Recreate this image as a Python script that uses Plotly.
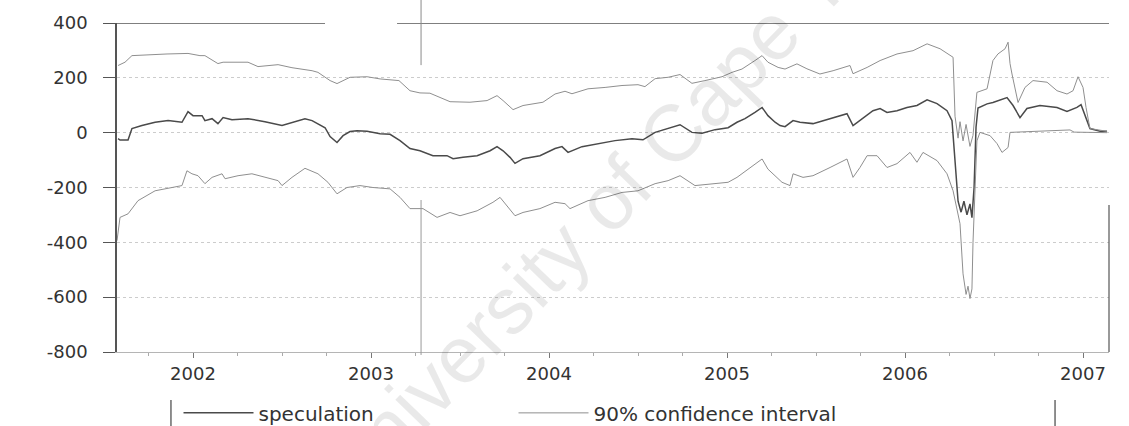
import plotly.graph_objects as go

# ---------------- data (decimal years) ----------------
spec_x = [2001.579, 2001.590, 2001.635, 2001.657, 2001.713, 2001.787, 2001.860, 2001.938, 2001.972,
          2002.000, 2002.051, 2002.067, 2002.107, 2002.140, 2002.169, 2002.219, 2002.309, 2002.404,
          2002.500, 2002.556, 2002.629, 2002.669, 2002.742, 2002.770, 2002.809, 2002.843, 2002.882,
          2002.921, 2002.978, 2003.051, 2003.107, 2003.163, 2003.219, 2003.275, 2003.348, 2003.427,
          2003.461, 2003.517, 2003.596, 2003.669, 2003.708, 2003.742, 2003.781, 2003.809, 2003.854,
          2003.949, 2004.034, 2004.073, 2004.107, 2004.185, 2004.275, 2004.371, 2004.466, 2004.528,
          2004.596, 2004.669, 2004.736, 2004.803, 2004.860, 2004.933, 2005.006, 2005.056, 2005.101,
          2005.157, 2005.197, 2005.230, 2005.270, 2005.298, 2005.326, 2005.371, 2005.410, 2005.483,
          2005.579, 2005.674, 2005.708, 2005.747, 2005.820, 2005.860, 2005.899, 2005.955, 2006.011,
          2006.067, 2006.124, 2006.180, 2006.236, 2006.264, 2006.281, 2006.298, 2006.315, 2006.331,
          2006.348, 2006.365, 2006.376, 2006.388, 2006.399, 2006.410, 2006.461, 2006.494, 2006.573,
          2006.607, 2006.646, 2006.685, 2006.758, 2006.854, 2006.910, 2006.966, 2006.989, 2007.011,
          2007.039, 2007.096, 2007.135]
speculation = [-22, -27, -27, 15, 26, 38, 44, 38, 77,
               62, 62, 44, 51, 33, 55, 47, 51, 40,
               26, 38, 51, 44, 18, -14, -36, -11, 4,
               7, 5, -4, -6, -29, -58, -66, -84, -84,
               -95, -90, -84, -66, -51, -66, -90, -112, -95,
               -84, -58, -51, -72, -51, -40, -29, -22, -26,
               1, 15, 29, 1, -2, 11, 18, 38, 51,
               74, 92, 62, 38, 26, 22, 44, 38, 33,
               51, 69, 26, 44, 80, 88, 74, 80, 92,
               99, 120, 106, 80, 44, -100, -250, -290, -250,
               -300, -260, -310, -200, 20, 90, 105, 110, 128,
               99, 55, 88, 99, 92, 77, 92, 102, 62,
               15, 5, 5]

upper_x = [2001.579, 2001.618, 2001.657, 2001.758, 2001.854, 2001.972, 2002.039, 2002.067, 2002.140,
           2002.169, 2002.309, 2002.365, 2002.478, 2002.556, 2002.669, 2002.702, 2002.770, 2002.809,
           2002.882, 2002.978, 2003.051, 2003.157, 2003.219, 2003.275, 2003.331, 2003.444, 2003.556,
           2003.652, 2003.708, 2003.742, 2003.798, 2003.854, 2003.966, 2004.034, 2004.090, 2004.129,
           2004.219, 2004.315, 2004.410, 2004.500, 2004.539, 2004.596, 2004.669, 2004.736, 2004.803,
           2004.876, 2004.972, 2005.028, 2005.084, 2005.157, 2005.197, 2005.230, 2005.287, 2005.326,
           2005.393, 2005.449, 2005.522, 2005.596, 2005.691, 2005.708, 2005.787, 2005.860, 2005.955,
           2006.045, 2006.124, 2006.197, 2006.253, 2006.270, 2006.281, 2006.298, 2006.309, 2006.326,
           2006.343, 2006.365, 2006.382, 2006.393, 2006.404, 2006.461, 2006.494, 2006.522, 2006.562,
           2006.579, 2006.590, 2006.601, 2006.635, 2006.674, 2006.719, 2006.798, 2006.854, 2006.910,
           2006.944, 2006.972, 2007.000, 2007.017, 2007.039, 2007.135]
upper_ci = [245, 257, 281, 285, 287, 289, 281, 281, 252,
            257, 257, 241, 248, 237, 226, 220, 190, 179,
            202, 204, 196, 190, 153, 145, 144, 113, 111,
            117, 135, 117, 84, 99, 111, 141, 151, 142,
            160, 165, 172, 175, 168, 197, 202, 212, 180,
            190, 204, 220, 232, 263, 281, 257, 238, 232,
            251, 233, 214, 226, 245, 215, 238, 263, 287,
            299, 324, 306, 281, 275, 60, -20, 40, -30,
            30, -50, -10, 60, 147, 160, 263, 287, 306,
            330, 252, 214, 110, 165, 190, 184, 153, 141,
            153, 204, 165, 92, 15, 5]

lower_x = [2001.573, 2001.590, 2001.635, 2001.691, 2001.787, 2001.882, 2001.938, 2001.966, 2001.994,
           2002.028, 2002.067, 2002.107, 2002.163, 2002.180, 2002.253, 2002.331, 2002.404, 2002.478,
           2002.500, 2002.556, 2002.629, 2002.702, 2002.758, 2002.787, 2002.809, 2002.865, 2002.938,
           2003.011, 2003.107, 2003.163, 2003.219, 2003.292, 2003.371, 2003.444, 2003.500, 2003.596,
           2003.685, 2003.725, 2003.764, 2003.809, 2003.854, 2003.949, 2004.034, 2004.090, 2004.118,
           2004.219, 2004.315, 2004.410, 2004.500, 2004.596, 2004.669, 2004.736, 2004.820, 2004.916,
           2005.006, 2005.056, 2005.118, 2005.197, 2005.230, 2005.309, 2005.354, 2005.371, 2005.427,
           2005.483, 2005.579, 2005.674, 2005.708, 2005.747, 2005.787, 2005.843, 2005.899, 2005.955,
           2006.028, 2006.067, 2006.101, 2006.180, 2006.236, 2006.270, 2006.309, 2006.326, 2006.343,
           2006.354, 2006.365, 2006.376, 2006.382, 2006.393, 2006.404, 2006.421, 2006.478, 2006.517,
           2006.545, 2006.579, 2006.590, 2006.927, 2006.950, 2007.135]
lower_ci = [-394, -309, -296, -248, -212, -200, -193, -139, -150,
            -157, -186, -163, -150, -168, -157, -150, -163, -175,
            -193, -163, -130, -150, -181, -205, -223, -200, -193,
            -200, -205, -236, -277, -277, -309, -291, -303, -285,
            -254, -236, -266, -303, -291, -277, -254, -259, -277,
            -248, -236, -218, -212, -186, -175, -157, -193, -186,
            -181, -163, -133, -96, -133, -181, -193, -150, -163,
            -157, -127, -96, -163, -127, -84, -84, -127, -113,
            -72, -108, -72, -102, -150, -212, -332, -515, -590,
            -560, -605, -570, -400, -180, -30, 1, -11, -40,
            -72, -54, 1, 10, 2, 0]

year_ticks = [2002, 2003, 2004, 2005, 2006, 2007]
year_labels = ["2002", "2003", "2004", "2005", "2006", "2007"]
y_ticks = [-800, -600, -400, -200, 0, 200, 400]
y_labels = ["-800", "-600", "-400", "-200", "0", "200", "400"]

# ---------------- figure ----------------
FONT = "DejaVu Sans"
fig = go.Figure()
fig.add_trace(go.Scatter(x=spec_x, y=speculation, mode="lines", name="speculation",
                         line=dict(color="#4a4a4a", width=1.5)))
fig.add_trace(go.Scatter(x=upper_x, y=upper_ci, mode="lines", name="90% confidence interval",
                         legendgroup="ci", line=dict(color="#8f8f8f", width=1.0)))
fig.add_trace(go.Scatter(x=lower_x, y=lower_ci, mode="lines", name="90% confidence interval",
                         legendgroup="ci", showlegend=False, line=dict(color="#8f8f8f", width=1.0)))

fig.update_layout(
    width=1129, height=426,
    margin=dict(l=117, r=20, t=23, b=74, autoexpand=False),
    paper_bgcolor="white", plot_bgcolor="white",
    font=dict(family=FONT, size=18, color="#333333"),
    showlegend=True,
    legend=dict(orientation="h", x=0.062, xanchor="left", y=-0.185, yanchor="middle",
                font=dict(family=FONT, size=20, color="#333333"),
                itemwidth=70, entrywidth=250, entrywidthmode="pixels",
                bgcolor="rgba(0,0,0,0)", borderwidth=0),
    xaxis=dict(range=[2001.573, 2007.146], tickmode="array", tickvals=year_ticks,
               ticktext=year_labels, ticks="outside", ticklen=5, tickcolor="#777",
               showgrid=False, zeroline=False, showline=True, linecolor="#b5b5b5",
               linewidth=1,
               minor=dict(dtick=0.25, tick0=2002, ticks="outside", ticklen=3, tickcolor="#aaa"),
               tickfont=dict(family=FONT, size=18, color="#333333")),
    yaxis=dict(range=[-800, 400], tickmode="array", tickvals=y_ticks, ticktext=y_labels,
               ticks="outside", ticklen=12, tickcolor="#555", ticklabelstandoff=12,
               showgrid=True, gridcolor="#cccccc", griddash="dot", gridwidth=1,
               zeroline=False, showline=True, linecolor="#555555", linewidth=1.5,
               tickfont=dict(family=FONT, size=18, color="#333333")),
)

shapes = [
    # top frame (broken in the scan)
    dict(type="line", xref="paper", yref="y", x0=-0.012, x1=0.2097, y0=400, y1=400,
         line=dict(color="#555555", width=1.5)),
    dict(type="line", xref="paper", yref="y", x0=0.2823, x1=1.0, y0=400, y1=400,
         line=dict(color="#555555", width=1.5)),
    # right frame, partially visible
    dict(type="line", xref="paper", yref="paper", x0=1.0, x1=1.0, y0=0.0, y1=0.447,
         line=dict(color="#555555", width=1.2)),
    # scan crease
    dict(type="line", xref="paper", yref="paper", x0=0.3065, x1=0.3065, y0=0.872, y1=1.07,
         line=dict(color="#8a8a8a", width=1)),
    dict(type="line", xref="paper", yref="paper", x0=0.3065, x1=0.3065, y0=-0.009, y1=0.462,
         line=dict(color="#9a9a9a", width=1)),
    # legend box side bars
    dict(type="line", xref="paper", yref="paper", x0=0.0544, x1=0.0544, y0=-0.146, y1=-0.24,
         line=dict(color="#444444", width=1.2)),
    dict(type="line", xref="paper", yref="paper", x0=0.9456, x1=0.9456, y0=-0.146, y1=-0.24,
         line=dict(color="#444444", width=1.2)),
]
fig.update_layout(shapes=shapes)

# faint scanned-page watermark
fig.add_annotation(text="University of Cape Town", xref="paper", yref="paper",
                   x=0.518, y=0.529, showarrow=False, textangle=-46,
                   font=dict(family="Liberation Sans", size=80, color="rgba(0,0,0,0.085)"))

fig.write_html("out.html")
